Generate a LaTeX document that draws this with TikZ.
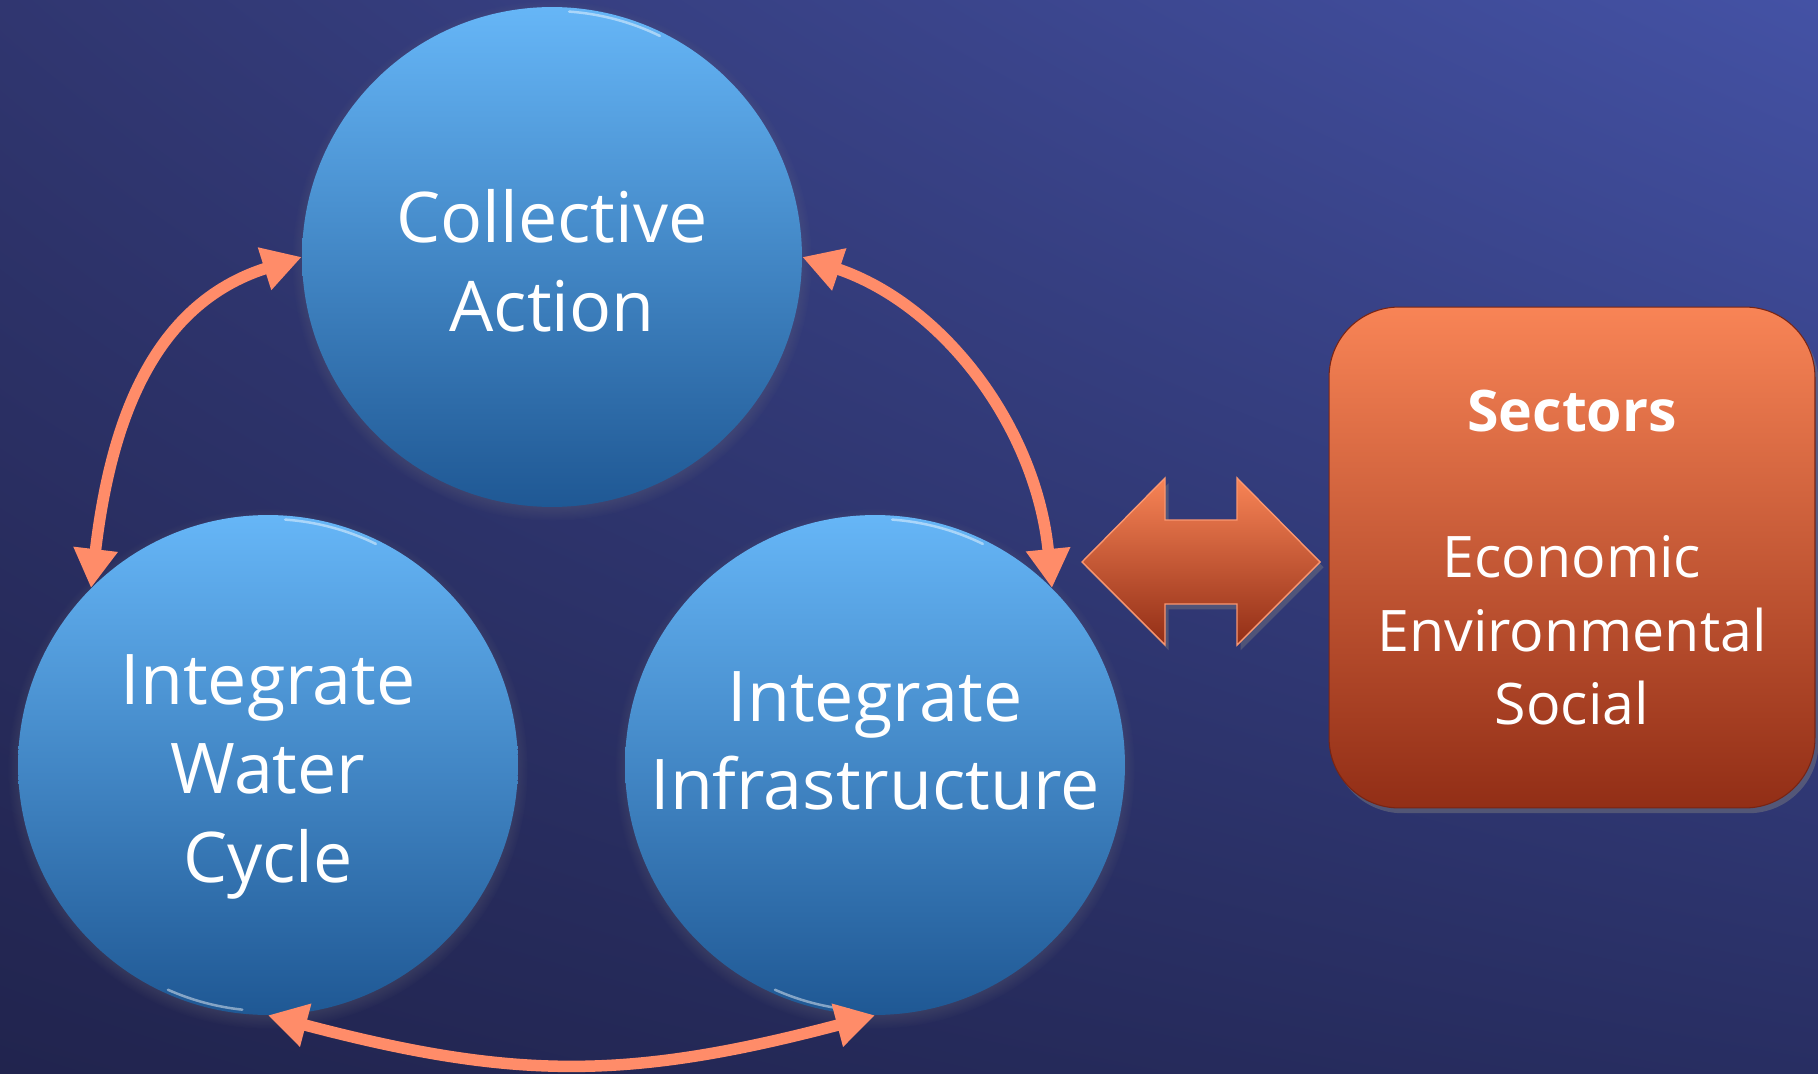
\documentclass[tikz,border=0pt]{standalone}
\usepackage{fontspec}
\setmainfont{Open Sans}
\usetikzlibrary{arrows.meta,shadows,shadings}
\definecolor{bgUL}{RGB}{48,54,112}
\definecolor{bgUR}{RGB}{68,82,165}
\definecolor{bgLL}{RGB}{33,36,78}
\definecolor{bgLR}{RGB}{40,46,98}
\definecolor{cTop}{RGB}{102,182,247}
\definecolor{cBot}{RGB}{31,88,148}
\definecolor{salmon}{RGB}{255,140,105}
\definecolor{oTop}{RGB}{248,132,86}
\definecolor{oBot}{RGB}{146,46,22}
\definecolor{oEdge}{RGB}{250,150,112}
\definecolor{oDark}{RGB}{120,36,20}
\begin{document}
\begin{tikzpicture}[x=0.02cm,y=0.02cm,
  bubble/.style={circle, minimum size=10cm, inner sep=0pt, top color=cTop, bottom color=cBot,
    circular drop shadow={shadow xshift=0pt, shadow yshift=-2pt, shadow scale=1.04, opacity=.55}},
  ctext/.style={text=white, align=center, inner sep=0pt, font=\fontsize{39.8}{50.5}\selectfont},
  sectorbox/.style={rectangle, rounded corners=1.4cm, minimum width=9.72cm, minimum height=10.02cm,
    top color=oTop, bottom color=oBot, draw=oDark, line width=0.6pt,
    drop shadow={shadow xshift=2pt, shadow yshift=-3pt, opacity=.45},
    text=white, align=center, font=\fontsize{32.6}{41.6}\selectfont},
  link/.style={draw=salmon, line width=0.23cm,
    {Triangle[length=0.78cm,width=0.84cm]}-{Triangle[length=0.78cm,width=0.84cm]}},
  shine/.style={draw=white, line width=0.05cm, opacity=.45, line cap=round},
  blockarrow/.style={top color=oTop, bottom color=oBot, draw=oEdge, line width=0.8pt,
    drop shadow={shadow xshift=2pt, shadow yshift=-3pt, opacity=.4}}]
\useasboundingbox (0,0) rectangle (1818,-1074);
\shade[upper left=bgUL, upper right=bgUR, lower left=bgLL, lower right=bgLR] (0,0) rectangle (1818,-1074);

% circles
\node[bubble] (cA) at (552,-257) {};
\node[bubble] (cW) at (268,-765) {};
\node[bubble] (cI) at (875,-765) {};

% highlights
\draw[shine] (552,-257) ++(86:246) arc[start angle=86, end angle=64, radius=246];
\draw[shine] (268,-765) ++(86:246) arc[start angle=86, end angle=64, radius=246];
\draw[shine] (875,-765) ++(86:246) arc[start angle=86, end angle=64, radius=246];
\draw[shine] (268,-765) ++(246:246) arc[start angle=246, end angle=264, radius=246];
\draw[shine] (875,-765) ++(246:246) arc[start angle=246, end angle=264, radius=246];

% texts
\node[ctext] (tA) at (552,-261) {Collective\\Action};
\node[ctext] (tW) at (268,-777) {Integrate\\Water\\Cycle};
\node[ctext] (tI) at (875,-741) {Integrate\\Infrastructure};

% sectors box
\node[sectorbox] (sec) at (1572,-557.5) {{\bfseries Sectors}\\[41.6pt]Economic\\Environmental\\Social};

% double block arrow
\path[blockarrow] (1082,-562) -- (1165,-478) -- (1165,-520) -- (1237,-520) -- (1237,-478)
  -- (1320,-562) -- (1237,-645) -- (1237,-604) -- (1165,-604) -- (1165,-645) -- cycle;

% connectors
\draw[link] (cW.135) .. controls +(19,160) and +(-152,-48) .. (cA.west);
\draw[link] (cA.east) .. controls +(142,-48) and +(-16,160) .. (cI.45);
\draw[link] (cW.south) .. controls +(247,-65) and +(-247,-65) .. (cI.south);
\end{tikzpicture}
\end{document}
